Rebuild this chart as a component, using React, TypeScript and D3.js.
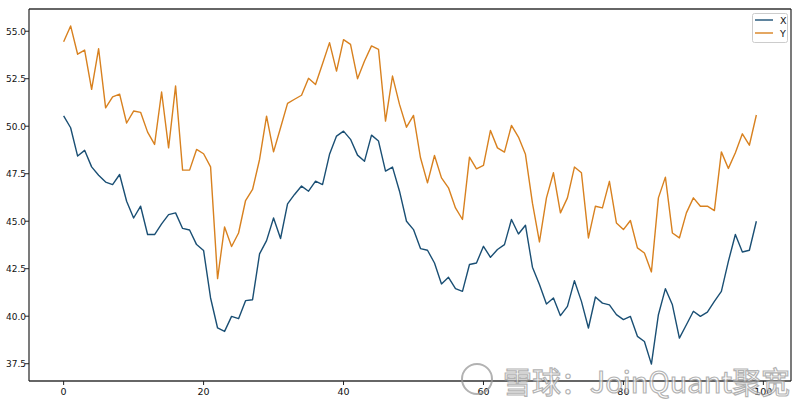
import React from "react";
import * as d3 from "d3";

const seriesNames = ["X", "Y"];
const xValues = [
  50.54, 49.92, 48.43, 48.73, 47.86, 47.42, 47.06, 46.93, 47.46, 46.05,
  45.17, 45.79, 44.3, 44.3, 44.86, 45.35, 45.44, 44.62, 44.54, 43.77,
  43.46, 40.96, 39.38, 39.2, 39.99, 39.87, 40.82, 40.87, 43.28, 43.98,
  45.17, 44.09, 45.91, 46.41, 46.85, 46.58, 47.11, 46.93, 48.52, 49.48,
  49.74, 49.31, 48.48, 48.16, 49.53, 49.22, 47.64, 47.85, 46.58, 45.0,
  44.56, 43.56, 43.47, 42.8, 41.7, 42.05, 41.45, 41.31, 42.72, 42.8,
  43.68, 43.1, 43.51, 43.77, 45.09, 44.33, 44.79, 42.58, 41.67, 40.64,
  40.96, 40.03, 40.52, 41.87, 40.78, 39.38, 41.01, 40.69, 40.6, 40.08,
  39.82, 39.99, 38.94, 38.67, 37.48, 40.08, 41.45, 40.6, 38.85, 39.55,
  40.26, 39.99, 40.22, 40.78, 41.31, 42.89, 44.3, 43.38, 43.47, 45.0,
];
const yValues = [
  54.45, 55.28, 53.79, 54.01, 51.94, 54.08, 50.97, 51.54, 51.69, 50.17,
  50.8, 50.73, 49.69, 49.04, 51.8, 48.86, 52.12, 47.69, 47.69, 48.78,
  48.55, 47.86, 41.98, 44.7, 43.67, 44.38, 46.09, 46.67, 48.25, 50.53,
  48.65, 49.92, 51.2, 51.42, 51.63, 52.52, 52.2, 53.29, 54.4, 52.9,
  54.56, 54.31, 52.5, 53.43, 54.23, 54.05, 50.27, 52.64, 51.15, 49.95,
  50.57, 48.34, 47.02, 48.46, 47.28, 46.76, 45.7, 45.09, 48.37, 47.76,
  47.94, 49.78, 48.86, 48.64, 50.04, 49.43, 48.52, 45.95, 43.91, 46.23,
  47.55, 45.44, 46.23, 47.85, 47.55, 44.12, 45.79, 45.7, 47.1, 44.91,
  44.56, 45.04, 43.6, 43.33, 42.33, 46.23, 47.32, 44.38, 44.12, 45.44,
  46.23, 45.79, 45.79, 45.56, 48.65, 47.78, 48.6, 49.6, 49.0, 50.59,
];
const xTicks = [0, 20, 40, 60, 80, 100];
const yTicks = [37.5, 40.0, 42.5, 45.0, 47.5, 50.0, 52.5, 55.0];
const colors = ["#1a4f74", "#d8811f"];

const W = 800;
const H = 402;
const left = 29;
const right = 791;
const top = 9;
const bottom = 381;

export default function App() {
  const n = xValues.length;
  const all = [...xValues, ...yValues];
  const mn = d3.min(all) as number;
  const mx = d3.max(all) as number;
  const xs = d3.scaleLinear().domain([-0.05 * (n - 1), (n - 1) * 1.05]).range([left, right]);
  const ys = d3.scaleLinear().domain([mn - 0.05 * (mx - mn), mx + 0.05 * (mx - mn)]).range([bottom, top]);
  const line = d3
    .line<number>()
    .x((_, i) => xs(i))
    .y((d) => ys(d));
  const font = "'DejaVu Sans', sans-serif";
  return (
    <div style={{ position: "absolute", left: 0, top: 0 }}>
      <svg width={W} height={H} style={{ display: "block", background: "#fff" }}>
        <rect x={0} y={0} width={W} height={H} fill="#fff" />
        {[xValues, yValues].map((s, k) => (
          <path key={k} d={line(s) || ""} fill="none" stroke={colors[k]} strokeWidth={1.4} strokeLinejoin="round" />
        ))}
        <line x1={left} x2={right} y1={top} y2={top} stroke="#666" strokeWidth={2} />
        <line x1={left} x2={right} y1={bottom} y2={bottom} stroke="#666" strokeWidth={2} />
        <line x1={left} x2={left} y1={top} y2={bottom} stroke="#222" strokeWidth={1.2} />
        <line x1={right} x2={right} y1={top} y2={bottom} stroke="#222" strokeWidth={1.2} />
        {xTicks.map((t) => (
          <g key={t}>
            <line x1={xs(t)} x2={xs(t)} y1={bottom} y2={bottom + 4} stroke="#222" strokeWidth={1} />
            <text x={xs(t)} y={bottom + 14} fontSize={9.5} fontFamily={font} textAnchor="middle" fill="#111">
              {t}
            </text>
          </g>
        ))}
        {yTicks.map((t) => (
          <g key={t}>
            <line x1={left - 4} x2={left} y1={ys(t)} y2={ys(t)} stroke="#222" strokeWidth={1} />
            <text x={left - 3} y={ys(t) + 3.5} fontSize={9.5} fontFamily={font} textAnchor="end" fill="#111" textLength={20} lengthAdjust="spacingAndGlyphs">
              {t.toFixed(1)}
            </text>
          </g>
        ))}
        <rect x={752.5} y={13.5} width={35} height={29} rx={2} fill="#fff" stroke="#ccc" strokeWidth={1} />
        {seriesNames.map((name, k) => (
          <g key={name}>
            <line x1={755} x2={773} y1={20 + k * 13} y2={20 + k * 13} stroke={colors[k]} strokeWidth={1.4} />
            <text x={780} y={23.5 + k * 13} fontSize={9.5} fontFamily={font} fill="#111">
              {name}
            </text>
          </g>
        ))}
        <g opacity={0.75}>
          <circle cx={477} cy={379} r={15} fill="none" stroke="#999" strokeWidth={2} />
          <text x={503} y={393} fontSize={30} fontFamily="'Noto Sans CJK SC', sans-serif" fill="#fff" stroke="#999" strokeWidth={1.2} textLength={287} lengthAdjust="spacingAndGlyphs">
            雪球：JoinQuant聚宽
          </text>
        </g>
      </svg>
    </div>
  );
}
